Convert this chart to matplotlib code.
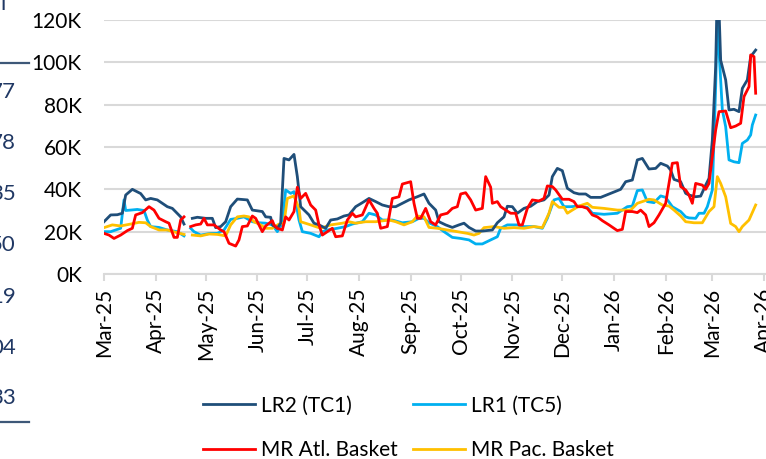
import matplotlib.pyplot as plt
import matplotlib.dates as mdates
import numpy as np
from matplotlib.lines import Line2D
from matplotlib.ticker import FuncFormatter

plt.rcParams['font.family'] = ['Lato', 'DejaVu Sans']

START = np.datetime64('2025-03-01')
nan = np.nan

# day offsets from START, values in $ thousands
lr2_day = [0, 4, 8, 11, 13, 17, 22, 25, 28, 32,
           38, 41, 46, 48, 50, 53, 56, 61, 65, 67,
           70, 73, 76, 80, 86, 89, 95, 97, 100, 101,
           104, 106, 108, 111, 114, 116, 118, 123, 126, 129,
           133, 136, 140, 144, 147, 151, 155, 159, 163, 167,
           171, 175, 179, 183, 188, 192, 195, 199, 201, 205,
           209, 213, 216, 219, 223, 227, 233, 236, 240, 242,
           245, 248, 252, 256, 260, 264, 267, 269, 272, 275,
           278, 282, 285, 289, 292, 298, 304, 310, 313, 317,
           320, 323, 327, 331, 334, 338, 340, 342, 346, 349,
           351, 355, 358, 361, 363, 365, 367, 368, 369, 370,
           373, 375, 378, 381, 383, 386, 388, 391]
lr2_val = [24.7, 27.9, 28.0, 28.7, 37.3, 40.0, 38.0, 35.0, 35.7, 35.0,
           31.8, 31.0, 27.0, 23.6, nan, 26.3, 26.8, 26.3, 26.3, 21.9,
           22.4, 24.7, 31.8, 35.4, 35.0, 30.2, 29.5, 27.0, 26.8, 23.2,
           21.6, 24.0, 54.6, 53.9, 56.5, 46.0, 31.8, 27.9, 24.0, 23.2,
           21.6, 25.5, 26.0, 27.4, 27.9, 31.8, 33.7, 35.7, 34.2, 32.6,
           31.8, 31.8, 33.4, 35.0, 36.5, 37.8, 33.4, 30.2, 24.7, 23.2,
           22.0, 23.2, 24.0, 22.0, 20.3, 20.3, 20.8, 24.2, 27.0, 32.0,
           31.8, 28.7, 31.0, 32.0, 34.2, 35.0, 37.3, 46.0, 49.9, 48.8,
           40.5, 38.4, 37.8, 37.8, 36.2, 36.2, 38.1, 40.0, 43.6, 44.4,
           53.9, 54.6, 49.6, 49.9, 52.3, 51.0, 49.1, 44.7, 43.6, 38.1,
           37.3, 36.5, 36.8, 42.0, 45.2, 63.3, 98.0, 135.0, 125.0, 101.0,
           91.7, 77.5, 77.8, 76.7, 87.7, 91.7, 102.7, 105.8]

lr1_day = [0, 4, 10, 12, 13, 16, 20, 24, 26, 28,
           33, 38, 44, 48, 50, 52, 54, 58, 64, 68,
           72, 76, 80, 84, 89, 93, 97, 101, 104, 107,
           109, 112, 114, 117, 119, 124, 129, 131, 134, 140,
           145, 149, 155, 159, 163, 167, 173, 179, 185, 189,
           192, 195, 200, 204, 209, 214, 219, 223, 227, 232,
           236, 238, 242, 248, 252, 258, 263, 266, 270, 273,
           276, 280, 285, 290, 293, 300, 308, 314, 317, 320,
           323, 326, 330, 334, 337, 341, 346, 349, 351, 355,
           357, 360, 362, 365, 367, 368, 369, 371, 373, 375,
           378, 381, 383, 386, 388, 389, 391]
lr1_val = [20.0, 20.0, 21.6, 35.0, 30.0, 30.2, 30.5, 30.0, 25.5, 22.4,
           22.0, 20.8, 20.0, 18.0, nan, 21.6, 20.0, 18.4, 19.2, 19.2,
           20.8, 25.8, 26.3, 27.0, 24.7, 24.2, 24.0, 23.2, 20.0, 24.0,
           39.7, 38.1, 38.9, 25.5, 20.0, 19.2, 17.6, 20.0, 20.8, 21.6,
           22.4, 23.6, 24.7, 28.7, 27.9, 25.5, 25.5, 24.2, 24.7, 26.3,
           26.3, 24.2, 22.4, 20.0, 17.3, 16.8, 16.1, 14.2, 14.2, 16.1,
           17.6, 21.6, 23.2, 23.2, 22.4, 22.4, 21.6, 26.3, 35.0, 35.7,
           31.8, 31.8, 32.1, 31.5, 28.7, 28.2, 28.7, 31.8, 32.1, 39.4,
           39.7, 34.2, 33.7, 36.9, 36.2, 31.8, 29.5, 27.0, 26.5, 26.3,
           28.7, 28.7, 31.8, 39.7, 88.5, 122.0, 105.8, 77.5, 69.6, 53.9,
           53.0, 52.6, 61.7, 63.3, 65.7, 70.4, 75.1]

atl_day = [0, 3, 6, 10, 14, 17, 19, 23, 27, 30,
           33, 37, 39, 42, 44, 46, 48, 50, 52, 55,
           58, 60, 62, 66, 70, 72, 75, 79, 81, 83,
           86, 89, 91, 95, 97, 101, 102, 104, 107, 109,
           111, 114, 116, 118, 121, 124, 127, 129, 131, 134,
           137, 139, 143, 146, 149, 151, 155, 159, 162, 164,
           166, 170, 173, 177, 179, 184, 186, 188, 190, 193,
           196, 199, 202, 206, 209, 212, 214, 217, 220, 223,
           227, 229, 232, 233, 236, 238, 241, 244, 247, 249,
           251, 254, 257, 261, 264, 266, 269, 271, 275, 279,
           282, 284, 287, 290, 293, 296, 299, 303, 308, 311,
           313, 317, 320, 322, 325, 327, 330, 333, 337, 339,
           341, 344, 346, 349, 351, 353, 355, 359, 361, 363,
           365, 367, 369, 373, 376, 379, 382, 384, 387, 388,
           390, 391]
atl_val = [19.2, 18.4, 16.8, 18.4, 20.5, 21.6, 27.9, 29.0, 31.8, 30.2,
           26.3, 24.7, 24.0, 17.3, 17.3, 25.5, 27.0, nan, 22.4, 23.2,
           23.6, 26.3, 23.2, 23.2, 20.8, 20.0, 14.5, 13.2, 16.1, 22.4,
           22.7, 27.4, 26.3, 20.0, 22.7, 25.2, 23.2, 21.6, 20.8, 27.0,
           25.5, 29.5, 41.0, 35.7, 38.1, 32.6, 30.2, 23.2, 18.4, 20.0,
           21.6, 17.6, 18.0, 25.5, 28.7, 27.0, 27.9, 35.0, 31.0, 28.7,
           21.6, 22.4, 35.7, 36.5, 42.5, 43.6, 33.4, 26.3, 26.3, 31.0,
           24.7, 23.2, 27.9, 28.7, 31.0, 31.8, 37.8, 38.4, 35.0, 30.2,
           31.0, 46.0, 41.0, 33.4, 34.2, 31.8, 30.2, 28.7, 28.7, 23.2,
           23.2, 31.0, 35.0, 34.5, 35.7, 41.6, 41.3, 39.7, 35.3, 35.3,
           34.2, 31.8, 31.8, 31.0, 27.9, 27.0, 25.2, 23.2, 20.5, 21.1,
           29.5, 29.5, 29.0, 30.2, 27.9, 22.4, 24.2, 27.9, 33.4, 42.8,
           52.3, 52.6, 41.3, 39.7, 37.3, 33.4, 42.8, 42.0, 40.0, 42.8,
           55.4, 68.0, 76.7, 77.0, 69.1, 69.9, 71.2, 83.8, 88.5, 103.5,
           102.7, 85.4]

pac_day = [0, 5, 10, 16, 21, 25, 28, 33, 38, 43,
           48, 50, 53, 58, 63, 68, 73, 76, 80, 84,
           87, 90, 94, 97, 101, 105, 108, 110, 114, 117,
           118, 124, 130, 136, 143, 147, 151, 157, 163, 171,
           175, 180, 185, 188, 192, 195, 200, 206, 212, 218,
           222, 225, 228, 234, 240, 246, 252, 258, 263, 267,
           269, 273, 276, 278, 281, 285, 290, 293, 300, 308,
           316, 320, 323, 327, 330, 335, 339, 342, 346, 349,
           354, 359, 363, 366, 368, 370, 373, 376, 379, 381,
           383, 387, 391]
pac_val = [21.9, 23.2, 22.7, 23.6, 24.4, 24.2, 22.4, 20.8, 20.8, 19.7,
           18.7, nan, 18.4, 18.0, 18.9, 18.7, 18.0, 23.2, 27.0, 27.4,
           27.0, 24.7, 23.2, 21.6, 21.6, 23.6, 24.0, 35.7, 36.9, 31.0,
           24.7, 23.2, 21.6, 23.2, 24.0, 24.7, 24.0, 24.7, 24.7, 25.5,
           24.7, 23.2, 24.7, 27.4, 27.0, 22.0, 21.6, 20.8, 20.0, 19.2,
           18.4, 19.2, 21.9, 22.4, 21.6, 21.9, 21.6, 22.4, 21.9, 28.7,
           34.2, 31.5, 31.5, 28.7, 30.2, 32.1, 33.4, 31.5, 31.0, 30.2,
           30.2, 33.4, 34.2, 35.3, 35.0, 32.6, 32.1, 30.2, 27.4, 24.7,
           24.2, 24.2, 29.5, 31.8, 46.0, 42.8, 36.5, 23.9, 22.4, 20.0,
           22.4, 25.5, 32.6]

series = [
    ('LR2 (TC1)', lr2_day, lr2_val, '#1F4E79'),
    ('MR Atl. Basket', atl_day, atl_val, '#FF0000'),
    ('LR1 (TC5)', lr1_day, lr1_val, '#00B0F0'),
    ('MR Pac. Basket', pac_day, pac_val, '#FFC000'),
]

# fragments of the neighbouring table cut off at the left edge
side_numbers = ['77', '78', '35', '50', '19', '04', '33']
side_y = [92, 143, 194, 245, 297, 348, 398]

W, H = 766, 459
fig = plt.figure(figsize=(W / 100, H / 100), dpi=100)
# 420 days shown, ~1.666 px per day
ax = fig.add_axes([104 / W, 1 - 274 / H, 700 / W, 254 / H])

lines = {}
for i in [2, 3, 0, 1]:
    name, d, v, c = series[i]
    x = START + np.array(d).astype('timedelta64[D]')
    ln, = ax.plot(x, v, color=c, lw=2.0, label=name, solid_joinstyle='round')
    lines[i] = ln

ax.set_ylim(0, 120)
ax.set_xlim(START, np.datetime64('2026-04-25'))
ax.set_yticks(np.arange(0, 121, 20))
ax.yaxis.set_major_formatter(FuncFormatter(lambda v, p: f'{v:.0f}K'))
ax.xaxis.set_major_locator(mdates.MonthLocator())
ax.xaxis.set_major_formatter(mdates.DateFormatter('%b-%y'))

for s in ['top', 'right', 'left']:
    ax.spines[s].set_visible(False)
ax.spines['bottom'].set_color('#D9D9D9')
ax.spines['bottom'].set_linewidth(1.5)
ax.grid(axis='y', color='#D9D9D9', lw=1.5)
ax.set_axisbelow(True)

ax.tick_params(axis='y', length=0, pad=16, labelsize=15)
ax.tick_params(axis='x', length=5, width=1.5, color='#D9D9D9', pad=5,
               labelsize=15, labelrotation=90)

fig.legend(handles=[lines[0], lines[1], lines[2], lines[3]], ncol=2,
           loc='center left', bbox_to_anchor=(203 / W, 1 - 428 / H),
           frameon=False, fontsize=15, handlelength=2.5, handletextpad=0.3,
           columnspacing=0.7, labelspacing=1.2, borderpad=0, borderaxespad=0)

for t, y in zip(side_numbers, side_y):
    fig.text(16 / W, 1 - y / H, t, ha='right', va='center', fontsize=16,
             color='#203864')
fig.text(6 / W, 1 - 10 / H, 'l', ha='right', va='baseline', fontsize=16,
         color='#203864')
for y in [63, 422]:
    fig.add_artist(Line2D([0, 29 / W], [1 - y / H, 1 - y / H],
                          transform=fig.transFigure, color='#3E5878', lw=1.6))

fig.savefig('out.png', dpi=100)
